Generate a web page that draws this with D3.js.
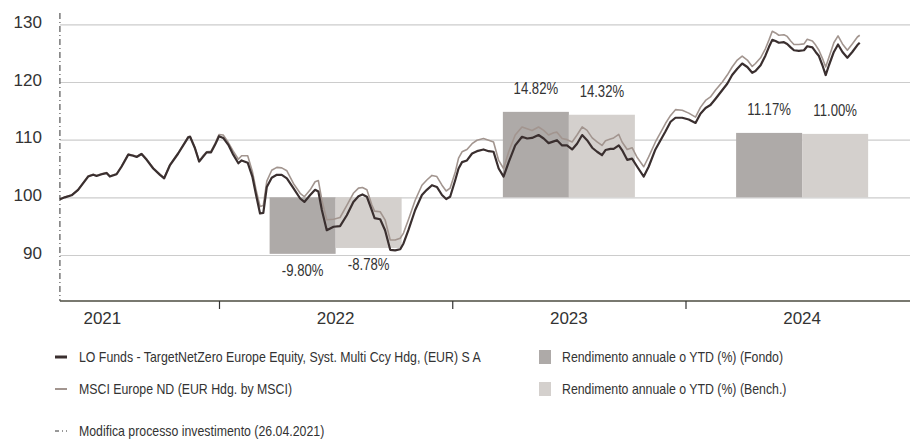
<!DOCTYPE html>
<html>
<head>
<meta charset="utf-8">
<script src="https://cdn.jsdelivr.net/npm/d3@7"></script>
<style>
  body { margin: 0; background: #fff; }
</style>
</head>
<body>
<div id="chart"></div>
<script>
// ---- data (decimal years, index base 100) ----
const dates = [
  2021.318, 2021.339, 2021.368, 2021.396, 2021.439, 2021.461, 2021.475, 2021.497, 2021.518, 2021.532,
  2021.561, 2021.582, 2021.611, 2021.632, 2021.647, 2021.668, 2021.690, 2021.718, 2021.747, 2021.765,
  2021.790, 2021.825, 2021.868, 2021.876, 2021.897, 2021.915, 2021.933, 2021.947, 2021.966, 2021.983,
  2022.000, 2022.018, 2022.040, 2022.061, 2022.083, 2022.097, 2022.123, 2022.143, 2022.159, 2022.176,
  2022.190, 2022.205, 2022.226, 2022.248, 2022.269, 2022.291, 2022.319, 2022.348, 2022.366, 2022.391,
  2022.412, 2022.426, 2022.441, 2022.462, 2022.491, 2022.519, 2022.548, 2022.576, 2022.598, 2022.615,
  2022.634, 2022.655, 2022.667, 2022.691, 2022.712, 2022.734, 2022.755, 2022.777, 2022.791, 2022.812,
  2022.841, 2022.870, 2022.891, 2022.913, 2022.934, 2022.956, 2022.974, 2022.991, 2023.013, 2023.027,
  2023.042, 2023.063, 2023.085, 2023.106, 2023.134, 2023.156, 2023.177, 2023.199, 2023.220, 2023.242,
  2023.270, 2023.299, 2023.321, 2023.342, 2023.370, 2023.392, 2023.413, 2023.435, 2023.449, 2023.471,
  2023.492, 2023.514, 2023.535, 2023.557, 2023.578, 2023.600, 2023.621, 2023.642, 2023.657, 2023.678,
  2023.692, 2023.714, 2023.728, 2023.750, 2023.771, 2023.793, 2023.821, 2023.842, 2023.871, 2023.893,
  2023.914, 2023.936, 2023.957, 2023.986, 2024.014, 2024.043, 2024.064, 2024.086, 2024.107, 2024.129,
  2024.158, 2024.179, 2024.200, 2024.222, 2024.243, 2024.265, 2024.286, 2024.300, 2024.322, 2024.343,
  2024.358, 2024.372, 2024.386, 2024.400, 2024.422, 2024.436, 2024.451, 2024.465, 2024.486, 2024.508,
  2024.522, 2024.544, 2024.558, 2024.572, 2024.587, 2024.601, 2024.615, 2024.636, 2024.654, 2024.673,
  2024.694, 2024.715, 2024.737, 2024.747
];

const fund = [
  99.65, 100.0, 100.35, 101.3, 103.6, 103.9, 103.7, 104.0, 104.2, 103.6,
  104.0, 105.3, 107.4, 107.2, 107.0, 107.5, 106.5, 105.0, 103.9, 103.3,
  105.6, 107.6, 110.4, 110.5, 108.5, 106.2, 107.1, 107.8, 107.8, 109.1,
  110.6, 110.3, 109.1, 107.4, 105.9, 106.4, 106.0, 103.6, 100.4, 97.2,
  97.3, 101.8, 103.4, 103.9, 103.9, 103.3, 101.6, 99.8, 99.2, 100.4,
  101.3, 101.0, 97.8, 94.3, 94.9, 95.0, 96.9, 99.2, 100.2, 100.5,
  100.1, 97.8, 96.4, 96.2, 94.3, 90.9, 90.8, 91.0, 92.0, 94.3,
  97.8, 100.4, 101.3, 102.1, 101.8, 100.4, 99.7, 100.1, 103.0, 105.0,
  106.1, 106.4, 107.6, 108.0, 108.3, 108.0, 107.9, 105.0, 103.6, 106.1,
  109.0, 110.5, 110.2, 110.3, 110.8, 110.2, 109.4, 109.7, 109.9, 109.0,
  109.0, 108.3, 109.3, 110.8, 109.9, 108.6, 107.9, 107.3, 108.2, 108.4,
  108.4, 109.0, 108.2, 106.5, 106.7, 105.3, 103.6, 105.3, 108.3, 109.9,
  111.4, 113.1, 113.8, 113.8, 113.5, 112.9, 114.5, 115.5, 116.0, 117.1,
  118.6, 119.7, 121.2, 122.3, 123.2, 122.6, 121.6, 121.9, 122.9, 124.6,
  126.1, 127.3, 127.1, 126.8, 126.9, 126.6, 126.0, 125.5, 125.4, 125.5,
  126.2, 126.0, 125.2, 124.5, 122.9, 121.2, 122.9, 125.2, 126.5, 125.2,
  124.2, 125.2, 126.4, 126.8
];

const bench = [
  99.6, 100.05, 100.4, 101.35, 103.7, 104.0, 103.8, 104.1, 104.3, 103.7,
  104.1, 105.4, 107.5, 107.3, 107.1, 107.6, 106.6, 105.1, 104.0, 103.4,
  105.7, 107.7, 110.5, 110.6, 108.6, 106.3, 107.3, 107.9, 108.0, 109.3,
  110.9, 110.8, 109.5, 108.0, 106.6, 107.2, 107.2, 104.5, 101.3, 98.4,
  98.6, 102.8, 104.7, 105.2, 105.1, 104.6, 102.4, 100.7, 100.1, 101.3,
  102.7, 102.9, 99.5, 96.1, 96.2, 96.5, 98.6, 100.7, 101.6, 101.7,
  101.3, 98.7, 97.6, 97.5, 96.1, 92.6, 92.6, 92.9, 93.8, 96.1,
  99.5, 102.1, 103.0, 103.8, 103.6, 102.1, 101.1, 101.6, 104.4, 106.8,
  107.9, 108.3, 109.3, 109.9, 110.2, 109.9, 109.6, 106.4, 105.0, 107.9,
  110.8, 112.2, 111.9, 111.6, 112.2, 111.6, 110.8, 111.2, 111.3, 110.2,
  110.0, 109.6, 110.8, 112.2, 111.6, 110.3, 109.6, 109.0, 109.8, 110.1,
  110.3, 110.9, 109.6, 108.3, 108.6, 106.9, 105.3, 107.0, 109.6, 111.2,
  112.8, 114.2, 115.2, 115.1, 114.6, 113.9, 115.6, 116.8, 117.4, 118.6,
  120.0, 121.2, 122.6, 123.8, 124.5, 123.8, 122.7, 123.2, 124.2, 125.8,
  127.3, 128.8, 128.5, 128.1, 128.2, 127.9, 127.1, 126.5, 126.5, 126.6,
  127.4, 127.1, 126.4, 125.5, 124.1, 122.6, 124.3, 126.8, 128.0, 126.6,
  125.5, 126.6, 127.8, 128.1
];

// annual / YTD returns (%)
const barYears = [2022, 2023, 2024];
const barFund = [-9.80, 14.82, 11.17];
const barBench = [-8.78, 14.32, 11.00];

const yTicks = [90, 100, 110, 120, 130];
const yearLabels = [2021, 2022, 2023, 2024];
const startDate = 2021.318; // 26.04.2021

const legendLines = [
  "LO Funds - TargetNetZero Europe Equity, Syst. Multi Ccy Hdg, (EUR) S A",
  "MSCI Europe ND (EUR Hdg. by MSCI)"
];
const legendBars = [
  "Rendimento annuale o YTD (%) (Fondo)",
  "Rendimento annuale o YTD (%) (Bench.)"
];
const legendNote = "Modifica processo investimento (26.04.2021)";

// ---- layout ----
const width = 912, height = 439;
const fundColor = "#3a2f2f", benchColor = "#a2958f";
const fundBar = "#aeaaa8", benchBar = "#d4d0cd";
const textColor = "#333333";
const font = "'Liberation Sans', Arial, sans-serif";

// squeeze text horizontally (no condensed face installed)
function condense(sel, k) {
  sel.each(function() {
    let len = this.getComputedTextLength();
    d3.select(this)
      .attr("textLength", len * k)
      .attr("lengthAdjust", "spacingAndGlyphs");
  });
}

const svg = d3.select("#chart")
  .append("svg")
  .attr("width", width)
  .attr("height", height)
  .attr("font-family", font);

const x = d3.scaleLinear().domain([2022, 2024]).range([219, 685.5]);
const y = d3.scaleLinear().domain([90, 130]).range([255, 24.3]);

const plotLeft = x(startDate), plotRight = 910, axisY = 301;
const barW = 0.283; // width of one bar in years

// gridlines + y labels
svg.append("g")
  .attr("transform", "translate(" + plotLeft + ",0)")
  .call(d3.axisLeft(y).tickValues(yTicks).tickSize(-(plotRight - plotLeft)).tickPadding(18))
  .call(g => g.select(".domain").remove())
  .call(g => g.selectAll(".tick line").attr("stroke", "#cccccc").attr("stroke-width", 1.2))
  .call(g => g.selectAll(".tick text")
    .attr("font-family", font)
    .attr("font-size", 17)
    .attr("fill", textColor)
    .attr("dy", "0.18em"));

// yearly return bars
const bars = svg.append("g");
barYears.forEach(function(yr, i) {
  let mid = yr + 0.5;
  [[barFund[i], mid - barW, fundBar], [barBench[i], mid, benchBar]].forEach(function(b) {
    let v = 100 + b[0];
    bars.append("rect")
      .attr("x", x(b[1]))
      .attr("width", x(b[1] + barW) - x(b[1]))
      .attr("y", Math.min(y(v), y(100)))
      .attr("height", Math.abs(y(v) - y(100)))
      .attr("fill", b[2]);
    bars.append("text")
      .attr("class", "barlabel")
      .attr("x", x(b[1] + barW / 2))
      .attr("y", b[0] >= 0 ? y(v) - 18 : y(v) + 22)
      .attr("text-anchor", "middle")
      .attr("font-size", 16)
      .attr("fill", textColor)
      .text(b[0].toFixed(2) + "%");
  });
});
bars.selectAll(".barlabel").call(condense, 0.82);

// start of new investment process
svg.append("line")
  .attr("x1", plotLeft).attr("x2", plotLeft)
  .attr("y1", 13).attr("y2", axisY)
  .attr("stroke", "#333")
  .attr("stroke-width", 1)
  .attr("stroke-dasharray", "6,3,1,3");

// performance lines
const line = d3.line()
  .x(d => x(d[0]))
  .y(d => y(d[1]));

svg.append("path")
  .datum(d3.zip(dates, bench))
  .attr("d", line)
  .attr("fill", "none")
  .attr("stroke", benchColor)
  .attr("stroke-width", 1.6)
  .attr("stroke-linejoin", "round");

svg.append("path")
  .datum(d3.zip(dates, fund))
  .attr("d", line)
  .attr("fill", "none")
  .attr("stroke", fundColor)
  .attr("stroke-width", 2.2)
  .attr("stroke-linejoin", "round");

// x axis
svg.append("line")
  .attr("x1", plotLeft).attr("x2", plotRight)
  .attr("y1", axisY).attr("y2", axisY)
  .attr("stroke", "#4d4d40")
  .attr("stroke-width", 1.5);

svg.append("g")
  .attr("transform", "translate(0," + axisY + ")")
  .call(d3.axisBottom(x).tickValues(barYears).tickSize(8).tickFormat(""))
  .call(g => g.select(".domain").remove())
  .call(g => g.selectAll(".tick line").attr("stroke", "#333").attr("stroke-width", 1.2));

svg.append("g").selectAll("text")
  .data(yearLabels)
  .join("text")
  .attr("x", d => x(d + 0.5))
  .attr("y", 324)
  .attr("text-anchor", "middle")
  .attr("font-size", 17)
  .attr("fill", textColor)
  .text(d => d);

// legend
const legend = svg.append("g")
  .attr("font-size", 14.5)
  .attr("fill", textColor);

const rowY = [357, 389];
legendLines.forEach(function(t, i) {
  legend.append("line")
    .attr("x1", 55).attr("x2", 67)
    .attr("y1", rowY[i]).attr("y2", rowY[i])
    .attr("stroke", i == 0 ? fundColor : benchColor)
    .attr("stroke-width", i == 0 ? 3 : 2);
  legend.append("text")
    .attr("x", 79).attr("y", rowY[i])
    .attr("dy", "0.35em")
    .text(t);
});

legendBars.forEach(function(t, i) {
  legend.append("rect")
    .attr("x", 539).attr("y", rowY[i] - 7)
    .attr("width", 12).attr("height", 14)
    .attr("fill", i == 0 ? fundBar : benchBar);
  legend.append("text")
    .attr("x", 562).attr("y", rowY[i])
    .attr("dy", "0.35em")
    .text(t);
});

legend.append("line")
  .attr("x1", 55).attr("x2", 67)
  .attr("y1", 431).attr("y2", 431)
  .attr("stroke", "#333")
  .attr("stroke-width", 1)
  .attr("stroke-dasharray", "4,3,1,3");
legend.append("text")
  .attr("x", 79).attr("y", 431)
  .attr("dy", "0.35em")
  .text(legendNote);

legend.selectAll("text").call(condense, 0.85);
</script>
</body>
</html>
